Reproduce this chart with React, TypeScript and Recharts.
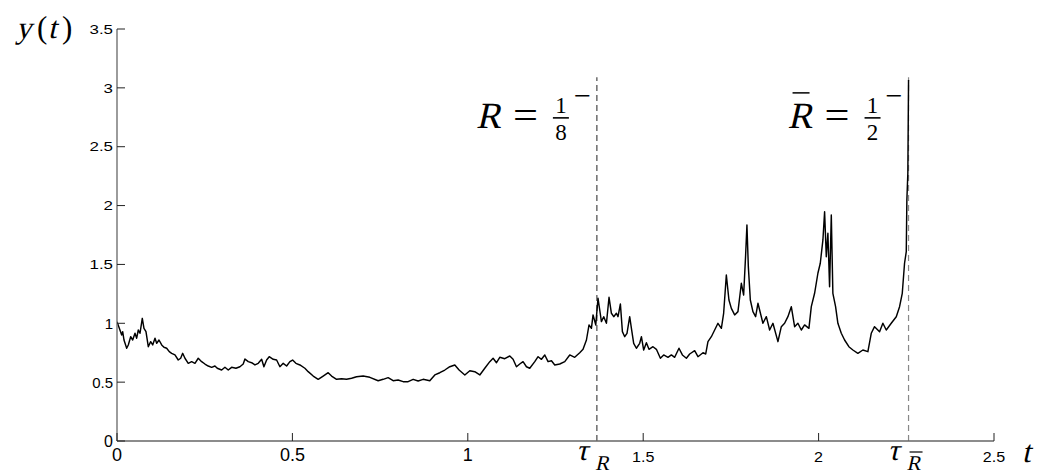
import React from 'react';
import { LineChart, Line, XAxis, YAxis, ReferenceLine, ReferenceDot, Label } from 'recharts';

const times = [
  0, 0.0066, 0.0134, 0.0162, 0.0199, 0.0276, 0.0322, 0.0390, 0.0447, 0.0513,
  0.0561, 0.0607, 0.0655, 0.0721, 0.0769, 0.0826, 0.0892, 0.0960, 0.1017, 0.1083,
  0.1131, 0.1197, 0.1274, 0.1339, 0.1416, 0.1490, 0.1558, 0.1652, 0.1746, 0.1815,
  0.1872, 0.1937, 0.2031, 0.2128, 0.2222, 0.2316, 0.2413, 0.2507, 0.2601, 0.2698,
  0.2792, 0.2858, 0.2983, 0.3077, 0.3171, 0.3268, 0.3390, 0.3504, 0.3598, 0.3647,
  0.3741, 0.3838, 0.3932, 0.4026, 0.4123, 0.4188, 0.4265, 0.4339, 0.4453, 0.4550,
  0.4644, 0.4738, 0.4835, 0.4929, 0.5006, 0.5100, 0.5214, 0.5356, 0.5450, 0.5593,
  0.5735, 0.5877, 0.6020, 0.6117, 0.6259, 0.6402, 0.6544, 0.6687, 0.6829, 0.7017,
  0.7208, 0.7444, 0.7587, 0.7729, 0.7872, 0.8014, 0.8157, 0.8299, 0.8442, 0.8584,
  0.8726, 0.8917, 0.9060, 0.9202, 0.9345, 0.9487, 0.9630, 0.9752, 0.9915, 1.0057,
  1.0199, 1.0342, 1.0484, 1.0627, 1.0721, 1.0818, 1.0912, 1.1054, 1.1197, 1.1291,
  1.1387, 1.1481, 1.1575, 1.1672, 1.1766, 1.1909, 1.2003, 1.2100, 1.2194, 1.2288,
  1.2385, 1.2479, 1.2621, 1.2764, 1.2906, 1.3048, 1.3191, 1.3285, 1.3382, 1.3456,
  1.3524, 1.3570, 1.3647, 1.3712, 1.3761, 1.3809, 1.3875, 1.3952, 1.4026, 1.4094,
  1.4160, 1.4236, 1.4282, 1.4350, 1.4407, 1.4473, 1.4538, 1.4615, 1.4664, 1.4729,
  1.4806, 1.4900, 1.4949, 1.5014, 1.5091, 1.5165, 1.5279, 1.5376, 1.5490, 1.5584,
  1.5707, 1.5803, 1.5897, 1.6020, 1.6117, 1.6231, 1.6325, 1.6467, 1.6561, 1.6704,
  1.6781, 1.6846, 1.6943, 1.7037, 1.7131, 1.7228, 1.7293, 1.7370, 1.7444, 1.7513,
  1.7607, 1.7701, 1.7798, 1.7863, 1.7920, 1.7957, 1.7997, 1.8054, 1.8128, 1.8205,
  1.8271, 1.8413, 1.8510, 1.8604, 1.8698, 1.8841, 1.8937, 1.9031, 1.9125, 1.9222,
  1.9316, 1.9410, 1.9507, 1.9601, 1.9724, 1.9792, 1.9886, 1.9980, 2.0048, 2.0123,
  2.0171, 2.0219, 2.0265, 2.0313, 2.0362, 2.0407, 2.0484, 2.0550, 2.0647, 2.0741,
  2.0863, 2.0977, 2.1120, 2.1262, 2.1405, 2.1501, 2.1595, 2.1738, 2.1832, 2.1929,
  2.2071, 2.2214, 2.2308, 2.2385, 2.2450, 2.2499, 2.2516, 2.2544, 2.2564,
];

const values = [
  1.014, 0.957, 0.901, 0.929, 0.858, 0.788, 0.816, 0.886, 0.858, 0.915,
  0.873, 0.943, 0.915, 1.042, 0.957, 0.929, 0.801, 0.844, 0.816, 0.873,
  0.830, 0.858, 0.816, 0.796, 0.788, 0.759, 0.745, 0.731, 0.688, 0.703,
  0.745, 0.703, 0.660, 0.674, 0.660, 0.703, 0.674, 0.654, 0.637, 0.626,
  0.637, 0.618, 0.603, 0.626, 0.603, 0.626, 0.618, 0.631, 0.654, 0.697,
  0.674, 0.665, 0.646, 0.660, 0.694, 0.631, 0.688, 0.716, 0.694, 0.688,
  0.631, 0.660, 0.637, 0.674, 0.688, 0.660, 0.646, 0.618, 0.589, 0.552,
  0.524, 0.552, 0.580, 0.552, 0.524, 0.529, 0.524, 0.533, 0.546, 0.552,
  0.541, 0.512, 0.524, 0.538, 0.512, 0.518, 0.504, 0.504, 0.524, 0.510,
  0.524, 0.512, 0.561, 0.580, 0.603, 0.631, 0.646, 0.603, 0.561, 0.597,
  0.589, 0.561, 0.618, 0.674, 0.703, 0.665, 0.711, 0.699, 0.722, 0.694,
  0.631, 0.654, 0.674, 0.631, 0.618, 0.674, 0.716, 0.694, 0.731, 0.674,
  0.682, 0.646, 0.654, 0.674, 0.731, 0.711, 0.750, 0.779, 0.858, 0.986,
  0.957, 1.071, 0.986, 1.212, 1.113, 1.014, 1.056, 1.000, 1.221, 1.085,
  1.056, 1.085, 1.056, 1.164, 0.929, 0.886, 0.915, 1.056, 0.957, 0.830,
  0.788, 0.830, 0.886, 0.773, 0.835, 0.779, 0.801, 0.779, 0.703, 0.731,
  0.711, 0.731, 0.711, 0.788, 0.731, 0.703, 0.739, 0.767, 0.716, 0.750,
  0.739, 0.844, 0.886, 0.943, 1.000, 0.957, 1.085, 1.410, 1.198, 1.127,
  1.071, 1.099, 1.340, 1.240, 1.580, 1.835, 1.481, 1.198, 1.099, 1.056,
  1.170, 1.000, 1.056, 0.943, 1.000, 0.844, 0.971, 1.000, 1.056, 1.141,
  0.971, 1.000, 0.943, 0.986, 0.957, 1.141, 1.255, 1.425, 1.510, 1.708,
  1.948, 1.566, 1.765, 1.311, 1.920, 1.255, 1.141, 1.000, 0.915, 0.858,
  0.801, 0.773, 0.745, 0.773, 0.759, 0.915, 0.971, 0.929, 1.000, 0.943,
  1.000, 1.056, 1.141, 1.255, 1.510, 1.608, 2.048, 2.274, 3.067,
];

const xTicks = [0, 0.5, 1, 1.5, 2, 2.5];
const xTickLabels = ['0', '0.5', '1', '1.5', '2', '2.5'];
const yTicks = [0, 0.5, 1, 1.5, 2, 2.5, 3, 3.5];
const yTickLabels = ['0', '0.5', '1', '1.5', '2', '2.5', '3', '3.5'];

const tauR = 1.368;
const tauRbar = 2.2564;
const tauLineTop = 3.09;
const annotationY = 2.66;
const annotationDenominators = ['8', '2'];

const data = times.map((t, i) => ({ t, y: values[i] }));
const allXTicks = [...xTicks, tauR, tauRbar].sort((a, b) => a - b);

const SANS = 'Liberation Sans, Arial, Helvetica, sans-serif';
const SERIF = 'Liberation Serif, Times New Roman, serif';

// approximate Arial advance width of a numeric label
const sansWidth = (s: string, fs: number) =>
  s.split('').reduce((w, c) => w + (c === '.' ? 0.278 : 0.556), 0) * fs;

// slanted serif glyph (emulates math italic)
const Slant = ({ x, y, fs, children, slant = -13 }: any) => (
  <text
    transform={`translate(${x},${y}) skewX(${slant})`}
    x={0}
    y={0}
    fontFamily={SERIF}
    fontSize={fs}
    fill="#000"
  >
    {children}
  </text>
);

const Upright = ({ x, y, fs, children, anchor }: any) => (
  <text x={x} y={y} fontFamily={SERIF} fontSize={fs} fill="#000" textAnchor={anchor || 'start'}>
    {children}
  </text>
);

const NumLabel = ({ x, y, fs, stretch, anchor, children }: any) => {
  const w = sansWidth(String(children), fs) * stretch;
  const sx = anchor === 'middle' ? x - w / 2 : anchor === 'end' ? x - w : x;
  return (
    <text
      x={sx}
      y={y}
      fontFamily={SANS}
      fontSize={fs}
      fill="#000"
      textLength={w}
      lengthAdjust="spacingAndGlyphs"
    >
      {children}
    </text>
  );
};

const XTick = (props: any) => {
  const { x, y, payload } = props;
  const v = payload.value;
  if (v === tauR || v === tauRbar) {
    const bar = v === tauRbar;
    return (
      <g>
        <Slant x={x - 21} y={y + 19} fs={30}>τ</Slant>
        <Slant x={x - 2} y={y + 29} fs={21}>R</Slant>
        {bar && <line x1={x + 1} x2={x + 14} y1={y + 11} y2={y + 11} stroke="#000" strokeWidth={1.2} />}
      </g>
    );
  }
  const idx = xTicks.indexOf(v);
  const big = v <= 1;
  return (
    <g>
      <line x1={x} x2={x} y1={y} y2={y - 8} stroke="#222" strokeWidth={1} />
      <NumLabel x={x} y={y + (big ? 20 : 21)} fs={big ? 18 : 14} stretch={big ? 1 : 1.15} anchor="middle">
        {xTickLabels[idx]}
      </NumLabel>
    </g>
  );
};

const YTick = (props: any) => {
  const { x, y, payload } = props;
  const v = payload.value;
  const idx = yTicks.indexOf(v);
  const fs = v === 0 ? 16 : v <= 1 ? 15 : 13;
  const stretch = v > 1 ? 1.3 : 1;
  return (
    <g>
      <line x1={x} x2={x + 8} y1={y} y2={y} stroke="#222" strokeWidth={1} />
      <NumLabel x={x - 4} y={y + fs * 0.36} fs={fs} stretch={stretch} anchor="end">
        {yTickLabels[idx]}
      </NumLabel>
    </g>
  );
};

const RLabel = ({ cx, cy, bar, den }: any) => (
  <g>
    <Slant x={cx - 121} y={cy} fs={37}>R</Slant>
    {bar && <line x1={cx - 116} x2={cx - 99} y1={cy - 35} y2={cy - 35} stroke="#000" strokeWidth={1.5} />}
    <text x={cx - 84} y={cy} fontFamily={SERIF} fontSize={37} fill="#000" textLength={25} lengthAdjust="spacingAndGlyphs">=</text>
    <Upright x={cx - 36} y={cy - 15} fs={23} anchor="middle">1</Upright>
    <line x1={cx - 44} x2={cx - 28} y1={cy - 10} y2={cy - 10} stroke="#000" strokeWidth={1.6} />
    <Upright x={cx - 36} y={cy + 12} fs={23} anchor="middle">{den}</Upright>
    <text x={cx - 23} y={cy - 23} fontFamily={SERIF} fontSize={28} fill="#000" textLength={17} lengthAdjust="spacingAndGlyphs">−</text>
  </g>
);

export default function App() {
  return (
    <div style={{ position: 'absolute', left: 0, top: 0, background: '#fff' }}>
      <LineChart
        width={1040}
        height={474}
        data={data}
        margin={{ top: 29, right: 46, bottom: 32, left: 116 }}
      >
        <XAxis
          dataKey="t"
          type="number"
          domain={[0, 2.5]}
          ticks={allXTicks}
          interval={0}
          height={1}
          tickSize={0}
          tickMargin={0}
          tickLine={false}
          tick={<XTick />}
          axisLine={{ stroke: '#666', strokeWidth: 1.3 }}
          allowDataOverflow
        >
          <Label
            content={(p: any) => {
              const vb = p.viewBox || {};
              return <Slant x={vb.x + vb.width + 28} y={vb.y + 21} fs={31}>t</Slant>;
            }}
          />
        </XAxis>
        <YAxis
          type="number"
          domain={[0, 3.5]}
          ticks={yTicks}
          interval={0}
          width={1}
          tickSize={0}
          tickMargin={0}
          tickLine={false}
          tick={<YTick />}
          axisLine={{ stroke: '#666', strokeWidth: 1.3 }}
          allowDataOverflow
        >
          <Label
            content={(p: any) => {
              const vb = p.viewBox || {};
              const ax = vb.x + vb.width;
              const by = vb.y + 9;
              return (
                <g>
                  <Slant x={ax - 101} y={by} fs={31}>y</Slant>
                  <Upright x={ax - 80} y={by} fs={31}>(</Upright>
                  <Slant x={ax - 69} y={by} fs={31}>t</Slant>
                  <Upright x={ax - 55} y={by} fs={31}>)</Upright>
                </g>
              );
            }}
          />
        </YAxis>
        <ReferenceLine
          segment={[{ x: tauR, y: 0 }, { x: tauR, y: tauLineTop }]}
          stroke="#222"
          strokeWidth={1}
          strokeDasharray="6 4"
        />
        <ReferenceLine
          segment={[{ x: tauRbar, y: 0 }, { x: tauRbar, y: tauLineTop }]}
          stroke="#888"
          strokeWidth={1.2}
          strokeDasharray="6 4"
        />
        <Line
          type="linear"
          dataKey="y"
          stroke="#000"
          strokeWidth={1.45}
          strokeLinejoin="round"
          dot={false}
          activeDot={false}
          isAnimationActive={false}
        />
        <ReferenceDot
          x={tauR}
          y={annotationY}
          r={0}
          shape={(p: any) => <RLabel cx={p.cx} cy={p.cy} bar={false} den={annotationDenominators[0]} />}
        />
        <ReferenceDot
          x={tauRbar}
          y={annotationY}
          r={0}
          shape={(p: any) => <RLabel cx={p.cx} cy={p.cy} bar={true} den={annotationDenominators[1]} />}
        />
      </LineChart>
    </div>
  );
}
